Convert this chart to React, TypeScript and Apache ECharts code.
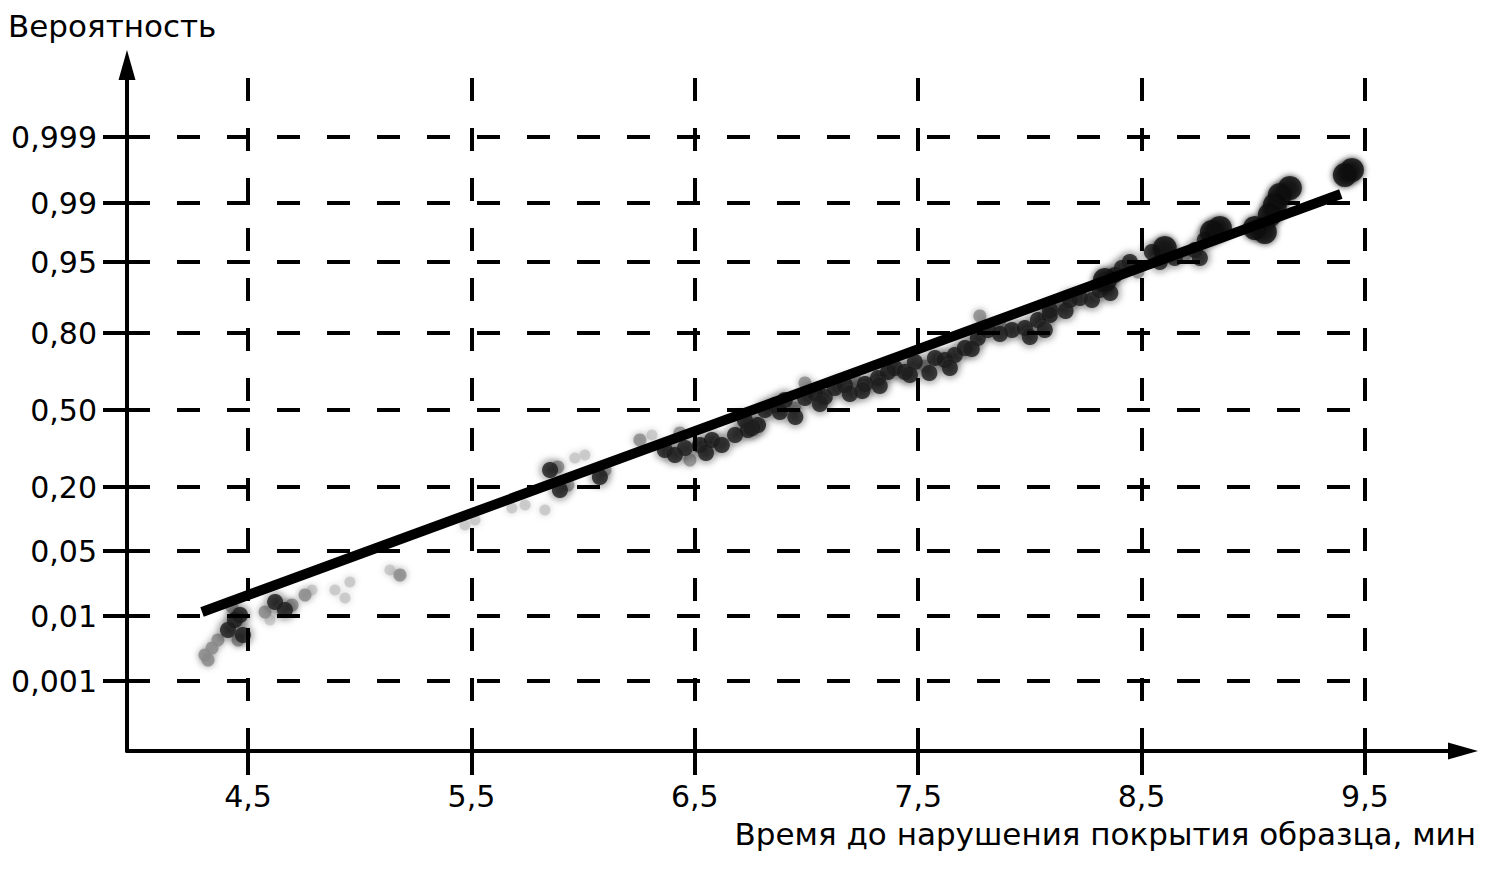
import { useEffect, useRef } from 'react';
import * as echarts from 'echarts';

// X axis: time to coating failure, min
const xTicks = [4.5, 5.5, 6.5, 7.5, 8.5, 9.5];
// Y axis: probability paper, tick positions in paper units and their labels
const probPos = [70, 135, 200, 264, 341, 418, 489, 548, 614];
const probLabels = ['0,001', '0,01', '0,05', '0,20', '0,50', '0,80', '0,95', '0,99', '0,999'];

// Fitted straight line
const fitLine = [
  [4.294, 139],
  [9.392, 557],
];

// Observed points (time, paper position) grouped by print density
const lightPts = [
  [4.598, 131], [4.786, 161], [4.889, 161], [4.934, 153], [4.956, 169], [5.135, 181],
  [5.471, 226], [5.516, 231], [5.681, 243], [5.74, 246], [5.829, 241], [5.963, 293],
  [6.008, 296], [6.308, 316],
];
const mediumPts = [
  [4.307, 96], [4.339, 103], [4.365, 111], [4.321, 91], [4.428, 144], [4.455, 111],
  [4.576, 139], [4.697, 146], [4.755, 156], [5.18, 176], [5.887, 284], [5.932, 266],
  [6.098, 281], [6.254, 311], [6.478, 291], [6.433, 318], [6.948, 343], [6.993, 368],
  [7.217, 371], [7.53, 385], [7.866, 426], [7.776, 435], [8.143, 446], [8.484, 479],
  [8.694, 496],
];
const darkPts = [
  [4.41, 121], [4.441, 131], [4.464, 136], [4.477, 116], [4.621, 149], [4.665, 141],
  [5.852, 281], [5.896, 261], [6.075, 274], [6.366, 301], [6.411, 296], [6.456, 303],
  [6.523, 306], [6.577, 311], [6.621, 306], [6.68, 316], [6.738, 321], [6.783, 326],
  [6.724, 331], [6.756, 323], [6.814, 341], [6.859, 346], [6.903, 351], [6.993, 353],
  [7.038, 358], [7.082, 354], [7.127, 363], [7.172, 366], [7.262, 367], [7.32, 373],
  [7.365, 379], [7.396, 383], [7.441, 379], [7.485, 389], [7.575, 393], [7.62, 391],
  [7.664, 396], [7.709, 403], [7.767, 413], [7.812, 421], [7.92, 421], [7.978, 423],
  [8.036, 431], [8.09, 436], [8.09, 441], [8.179, 451], [8.224, 453], [8.278, 451],
  [8.313, 461], [8.381, 476], [8.412, 483], [8.448, 489], [8.546, 499], [8.582, 489],
  [8.649, 493], [8.739, 501], [8.761, 493], [8.783, 511],
  [6.881, 339], [7.06, 347], [7.194, 357], [7.328, 365], [7.463, 376], [7.642, 383],
  [7.866, 417], [8.067, 421], [6.55, 298], [6.95, 334], [7.25, 360], [7.55, 378],
  [7.74, 402], [8.0, 414], [8.16, 440], [8.36, 458],
];
const bigPts = [
  [8.336, 471], [8.604, 503], [8.815, 519], [8.851, 523], [9.007, 523], [9.052, 519],
  [9.074, 536], [9.097, 546], [9.119, 556], [9.164, 563], [9.41, 576], [9.442, 581],
];

const X_MIN = 3.958;
const X_MAX = 9.939;
const Y_MAX = 686;
const V_GRID_TOP = 673;
const H_GRID_END = 9.513;

const FONT = 'DejaVu Sans';

export default function App() {
  const ref = useRef<HTMLDivElement>(null);

  useEffect(() => {
    if (!ref.current) return;
    const chart = echarts.init(ref.current, null, { renderer: 'svg' });

    const fmtX = (v: number) => String(v).replace('.', ',');
    const fmtY = (v: number) => {
      const i = probPos.indexOf(v);
      return i >= 0 ? probLabels[i] : '';
    };

    const gridLines = [
      ...xTicks.map((x) => [{ coord: [x, V_GRID_TOP] }, { coord: [x, 0] }]),
      ...probPos.map((y) => [{ coord: [X_MIN, y] }, { coord: [H_GRID_END, y] }]),
    ];

    const scatter = (data: number[][], color: string, size: number, blur: number, z: number) => ({
      type: 'scatter',
      data,
      symbol: 'circle',
      symbolSize: size,
      z,
      silent: true,
      itemStyle: { color, shadowBlur: blur, shadowColor: color },
    });

    chart.setOption({
      animation: false,
      backgroundColor: '#ffffff',
      grid: { left: 127, right: 24, top: 65, bottom: 129, outerBoundsMode: 'none', containLabel: false },
      xAxis: {
        type: 'value',
        min: X_MIN,
        max: X_MAX,
        axisLine: {
          show: true,
          onZero: false,
          symbol: ['none', 'triangle'],
          symbolSize: [17, 30],
          lineStyle: { color: '#000', width: 4 },
        },
        axisTick: {
          show: true,
          customValues: xTicks,
          length: 24,
          inside: false,
          lineStyle: { color: '#000', width: 4 },
        },
        axisLabel: {
          show: true,
          customValues: xTicks,
          formatter: fmtX,
          margin: 30,
          color: '#000',
          fontFamily: FONT,
          fontSize: 30,
        },
        splitLine: { show: false },
      },
      yAxis: {
        type: 'value',
        min: 0,
        max: Y_MAX,
        axisLine: {
          show: true,
          onZero: false,
          symbol: ['none', 'triangle'],
          symbolSize: [17, 30],
          lineStyle: { color: '#000', width: 4 },
        },
        axisTick: {
          show: true,
          customValues: probPos,
          length: 24,
          inside: false,
          lineStyle: { color: '#000', width: 4 },
        },
        axisLabel: {
          show: true,
          customValues: probPos,
          formatter: fmtY,
          margin: 30,
          color: '#000',
          fontFamily: FONT,
          fontSize: 30,
        },
        splitLine: { show: false },
      },
      graphic: [
        {
          type: 'text',
          x: 8,
          y: 26,
          style: {
            text: 'Вероятность',
            fill: '#000',
            font: `31px "${FONT}"`,
            align: 'left',
            verticalAlign: 'middle',
          },
        },
        {
          type: 'text',
          x: 1476,
          y: 834,
          style: {
            text: 'Время до нарушения покрытия образца, мин',
            fill: '#000',
            font: `31px "${FONT}"`,
            align: 'right',
            verticalAlign: 'middle',
          },
        },
      ],
      series: [
        {
          type: 'scatter',
          data: [],
          z: 1,
          markLine: {
            silent: true,
            symbol: ['none', 'none'],
            label: { show: false },
            emphasis: { disabled: true },
            animation: false,
            lineStyle: { color: '#000', width: 4, type: [23, 27] },
            data: gridLines,
          },
        },
        scatter(lightPts, '#c4c4c4', 11, 7, 2),
        scatter(mediumPts, '#8a8a8a', 13, 7, 3),
        scatter(darkPts, '#1c1c1c', 16, 8, 4),
        scatter(bigPts, '#111111', 24, 6, 5),
        {
          type: 'line',
          data: fitLine,
          symbol: 'none',
          z: 6,
          silent: true,
          lineStyle: { color: '#000', width: 10, cap: 'butt' },
        },
      ],
    });

    return () => chart.dispose();
  }, []);

  return (
    <div
      ref={ref}
      style={{ position: 'fixed', left: 0, top: 0, width: 1487, height: 880, background: '#fff' }}
    />
  );
}
